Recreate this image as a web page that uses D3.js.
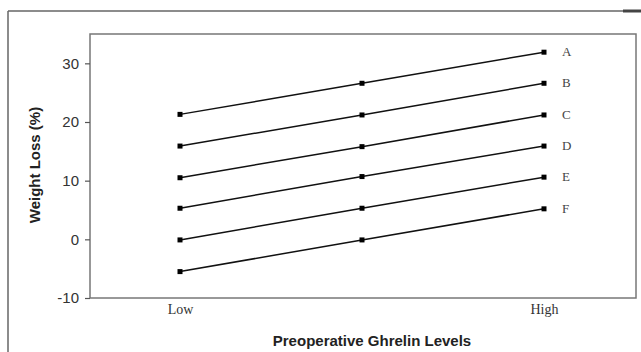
<!DOCTYPE html>
<html><head><meta charset="utf-8">
<script src="https://cdn.jsdelivr.net/npm/d3@7"></script>
<style>body{margin:0;background:#fff}svg{display:block}</style>
</head><body>
<script>
const levels = ["Low", "Mid", "High"];
const xTickLabels = ["Low", "High"];
const seriesNames = ["A", "B", "C", "D", "E", "F"];
const seriesA = [21.3, 26.6, 31.9];
const seriesB = [15.9, 21.2, 26.6];
const seriesC = [10.5, 15.8, 21.2];
const seriesD = [5.3, 10.7, 15.9];
const seriesE = [-0.1, 5.3, 10.6];
const seriesF = [-5.5, -0.1, 5.2];
const yTicks = [-10, 0, 10, 20, 30];
const allSeries = [seriesA, seriesB, seriesC, seriesD, seriesE, seriesF];

(function () {
const W = 641, H = 352;
const svg = d3.select("body").append("svg").attr("width", W).attr("height", H);

// outer frame lines
svg.append("line").attr("x1", 8).attr("x2", W).attr("y1", 11).attr("y2", 11)
  .attr("stroke", "#666").attr("stroke-width", 1.5);
svg.append("line").attr("x1", 623).attr("x2", W).attr("y1", 11).attr("y2", 11)
  .attr("stroke", "#444").attr("stroke-width", 3);
svg.append("line").attr("x1", 8).attr("x2", 8).attr("y1", 11).attr("y2", H)
  .attr("stroke", "#666").attr("stroke-width", 1.5);

const pL = 90, pR = 636, pT = 34, pB = 298;
const x = d3.scalePoint().domain(levels).range([180, 544]);
const y = d3.scaleLinear().domain([-10, 35]).range([pB, pT]);

// plot frame
svg.append("rect").attr("x", pL).attr("y", pT).attr("width", pR - pL).attr("height", pB - pT)
  .attr("fill", "none").attr("stroke", "#777").attr("stroke-width", 1.5);

// y axis
const yAxis = svg.append("g").attr("transform", `translate(${pL},0)`)
  .call(d3.axisLeft(y).tickValues(yTicks).tickSize(5).tickPadding(6).tickFormat(d => String(d)));
yAxis.select(".domain").remove();
yAxis.selectAll(".tick line").attr("stroke", "#555").attr("stroke-width", 1.2);
yAxis.selectAll(".tick text").attr("font-family", "Arial, 'Liberation Sans', sans-serif")
  .attr("font-size", 15).attr("fill", "#333");

// x labels
const xAxis = svg.append("g").attr("transform", `translate(0,${pB})`)
  .call(d3.axisBottom(x).tickValues(xTickLabels).tickSize(0).tickPadding(6));
xAxis.select(".domain").remove();
xAxis.selectAll(".tick text").attr("font-family", "'Times New Roman', 'Liberation Serif', serif")
  .attr("font-size", 14).attr("fill", "#333");

// lines
const line = d3.line().x((d, i) => x(levels[i])).y(d => y(d));
allSeries.forEach((s, k) => {
  svg.append("path").datum(s).attr("d", line).attr("fill", "none")
    .attr("stroke", "#111").attr("stroke-width", 1.5);
  svg.selectAll(null).data(s).enter().append("rect")
    .attr("x", (d, i) => x(levels[i]) - 2.5).attr("y", d => y(d) - 2.5)
    .attr("width", 5).attr("height", 5).attr("fill", "#000");
  svg.append("text").attr("x", 562).attr("y", y(s[2]) + 4)
    .attr("font-family", "'Times New Roman', 'Liberation Serif', serif")
    .attr("font-size", 13).attr("fill", "#444").text(seriesNames[k]);
});

// axis titles
svg.append("text").attr("x", 372).attr("y", 346).attr("text-anchor", "middle")
  .attr("font-family", "Arial, 'Liberation Sans', sans-serif").attr("font-weight", "bold")
  .attr("font-size", 15).attr("fill", "#222").text("Preoperative Ghrelin Levels");
svg.append("text").attr("transform", "translate(40,165) rotate(-90)").attr("text-anchor", "middle")
  .attr("font-family", "Arial, 'Liberation Sans', sans-serif").attr("font-weight", "bold")
  .attr("font-size", 15).attr("fill", "#222").text("Weight Loss (%)");
})();
</script>
</body></html>
